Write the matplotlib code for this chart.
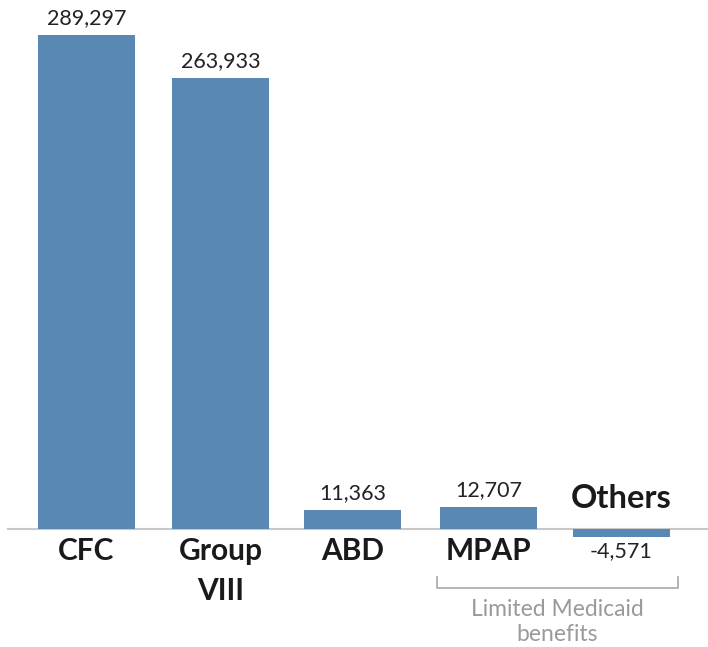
import matplotlib
matplotlib.use("Agg")
import matplotlib.pyplot as plt
import matplotlib.transforms as mtransforms

categories = ["CFC", "Group\nVIII", "ABD", "MPAP", "Others"]
values = [289297, 263933, 11363, 12707, -4571]
value_labels = ["289,297", "263,933", "11,363", "12,707", "-4,571"]
bracket_text = "Limited Medicaid\nbenefits"

W, H = 708, 647
fig = plt.figure(figsize=(W / 100, H / 100), dpi=100)
ax = fig.add_axes([0, 0, 1, 1])
ax.axis("off")

px_per_unit = 134.0
x0_px = 86.5
base_px = 529
val_per_px = 289297 / (529 - 35)
ax.set_xlim(-x0_px / px_per_unit, (W - x0_px) / px_per_unit)
ax.set_ylim(-(H - base_px) * val_per_px, base_px * val_per_px)

font = "Lato"
bar_color = "#5A88B5"
x = [0, 1, 1.985, 3, 3.99]
ax.bar(x, values, width=0.725, color=bar_color, zorder=2)

# baseline
ax.axhline(0, xmin=8 / W, xmax=1, color="#C8C8C8", lw=1.5, zorder=1)

blend = mtransforms.blended_transform_factory(ax.transData, ax.transAxes)
def fy(ypx):
    return 1 - ypx / H

for i, v, lab, cat in zip(x, values, value_labels, categories):
    if v >= 0:
        ax.annotate(lab, (i, v), xytext=(0, 5), textcoords="offset points",
                    ha="center", va="bottom", fontsize=15.5, color="#222222",
                    family=font)
        ax.text(i, fy(537), cat, transform=blend, ha="center", va="top",
                fontsize=21.5, fontweight="bold", color="#1a1a1a", family=font,
                linespacing=1.52)
    else:
        ax.annotate(lab, (i, v), xytext=(0, -3), textcoords="offset points",
                    ha="center", va="top", fontsize=15.5, color="#222222",
                    family=font)
        ax.text(i, fy(499), cat, transform=blend, ha="center", va="center",
                fontsize=23.5, fontweight="bold", color="#1a1a1a", family=font)

# bracket for limited benefits
xl, xr = 3 - 0.385, 3.99 + 0.425
ax.plot([xl, xl, xr, xr], [fy(577), fy(588), fy(588), fy(577)], transform=blend,
        color="#A8A8A8", lw=1.2)
ax.text((xl + xr) / 2, fy(622), bracket_text, transform=blend, ha="center",
        va="center", fontsize=16.5, color="#9A9A9A", family=font, linespacing=1.25)

fig.savefig("out.png", dpi=100)
